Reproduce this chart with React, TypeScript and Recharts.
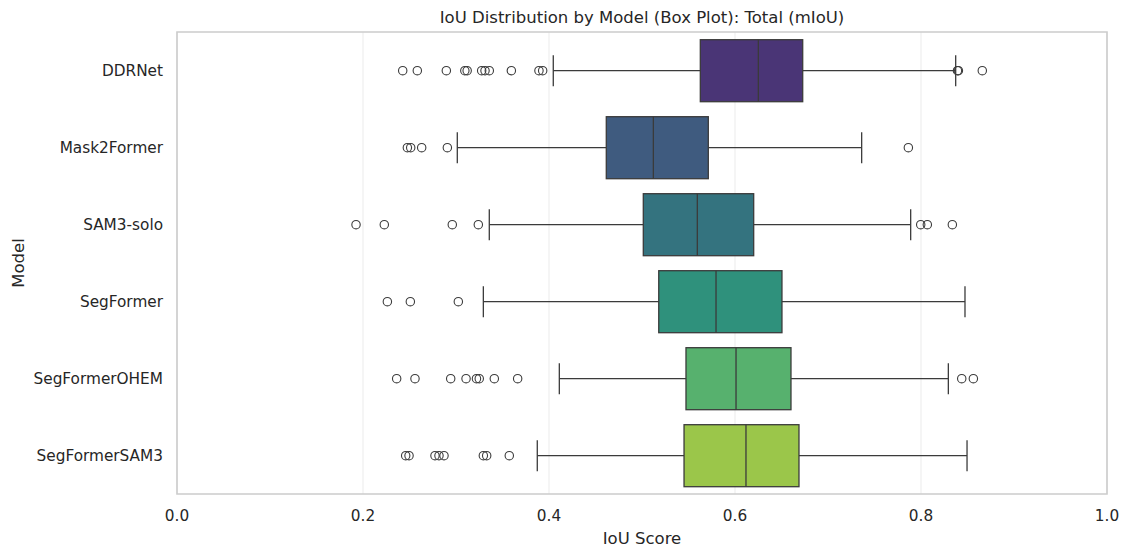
import { ComposedChart, Bar, XAxis, YAxis, CartesianGrid, ReferenceArea } from "recharts";

const models = ["DDRNet", "Mask2Former", "SAM3-solo", "SegFormer", "SegFormerOHEM", "SegFormerSAM3"];
const q1 = [0.5627, 0.4616, 0.5014, 0.518, 0.5473, 0.5452];
const medians = [0.6251, 0.5122, 0.5595, 0.5796, 0.6011, 0.6118];
const q3 = [0.6728, 0.5713, 0.6201, 0.6505, 0.6602, 0.6688];
const whiskerLow = [0.4046, 0.3014, 0.3358, 0.3294, 0.4111, 0.3874];
const whiskerHigh = [0.8373, 0.7362, 0.7889, 0.8473, 0.8294, 0.8495];
const outliers = [
  [0.2427, 0.2584, 0.2896, 0.3095, 0.312, 0.3276, 0.3312, 0.3358, 0.3595, 0.3892, 0.3932, 0.8392, 0.8402, 0.8659],
  [0.2477, 0.2513, 0.2631, 0.2907, 0.7864],
  [0.1925, 0.2229, 0.296, 0.324, 0.7997, 0.8068, 0.8337],
  [0.2262, 0.2509, 0.3025],
  [0.2362, 0.2559, 0.2943, 0.3108, 0.322, 0.325, 0.3412, 0.3663, 0.8438, 0.8563],
  [0.2459, 0.2495, 0.2774, 0.2817, 0.2871, 0.3294, 0.333, 0.3573],
];
const colors = ["#4a3576", "#3f5b7f", "#34737f", "#2f917c", "#57b16e", "#9bc64a"];
const xTicks = [0, 0.2, 0.4, 0.6, 0.8, 1.0];

const data = models.map((m, i) => ({
  model: m,
  box: [q1[i], q3[i]],
  q1: q1[i],
  q3: q3[i],
  median: medians[i],
  lo: whiskerLow[i],
  hi: whiskerHigh[i],
  fliers: outliers[i],
  color: colors[i],
}));

const LINE = "#3b3b3b";
const FONT = "'DejaVu Sans', sans-serif";

// box, whiskers, median and fliers for one row; the scale comes from the bar's own q1..q3 span
const BoxShape = (props: any) => {
  const { x, y, width, height, payload } = props;
  if (!payload) return null;
  const left = Math.min(x, x + width);
  const w = Math.abs(width);
  const ppu = w / (payload.q3 - payload.q1);
  const sx = (v: number) => left + (v - payload.q1) * ppu;
  const cy = y + height / 2;
  const cap = height / 4;
  return (
    <g>
      <line x1={sx(payload.lo)} x2={left} y1={cy} y2={cy} stroke={LINE} strokeWidth={1.3} />
      <line x1={left + w} x2={sx(payload.hi)} y1={cy} y2={cy} stroke={LINE} strokeWidth={1.3} />
      <line x1={sx(payload.lo)} x2={sx(payload.lo)} y1={cy - cap} y2={cy + cap} stroke={LINE} strokeWidth={1.3} />
      <line x1={sx(payload.hi)} x2={sx(payload.hi)} y1={cy - cap} y2={cy + cap} stroke={LINE} strokeWidth={1.3} />
      <rect x={left} y={y} width={w} height={height} fill={payload.color} stroke={LINE} strokeWidth={1.3} />
      <line x1={sx(payload.median)} x2={sx(payload.median)} y1={y} y2={y + height} stroke={LINE} strokeWidth={1.3} />
      {payload.fliers.map((v: number, k: number) => (
        <circle key={k} cx={sx(v)} cy={cy} r={4.2} fill="none" stroke={LINE} strokeWidth={1.1} />
      ))}
    </g>
  );
};

export default function App() {
  return (
    <div style={{ position: "absolute", left: 0, top: 0, width: 1128, height: 556, background: "#fff", fontFamily: FONT }}>
      <div
        style={{
          position: "absolute",
          left: 177,
          width: 930,
          top: 8,
          textAlign: "center",
          fontSize: 16.5,
          color: "#262626",
        }}
      >
        IoU Distribution by Model (Box Plot): Total (mIoU)
      </div>
      <ComposedChart
        width={1128}
        height={556}
        data={data}
        layout="vertical"
        margin={{ top: 32, right: 21, bottom: 0, left: 0 }}
        barCategoryGap="10%"
      >
        <CartesianGrid horizontal={false} stroke="#ebebeb" strokeWidth={1} />
        <XAxis
          type="number"
          domain={[0, 1]}
          ticks={xTicks}
          tickFormatter={(v: number) => v.toFixed(1)}
          tickLine={false}
          axisLine={false}
          tickMargin={10}
          height={62}
          tick={{ fill: "#262626", fontSize: 15.3, fontFamily: FONT }}
          label={{
            value: "IoU Score",
            position: "insideBottom",
            offset: 12,
            fill: "#262626",
            fontSize: 16.5,
            fontFamily: FONT,
          }}
        />
        <YAxis
          type="category"
          dataKey="model"
          width={177}
          tickLine={false}
          axisLine={false}
          tickMargin={8}
          tick={{ fill: "#262626", fontSize: 15.3, fontFamily: FONT }}
          label={{
            value: "Model",
            angle: -90,
            position: "insideLeft",
            offset: 18,
            fill: "#262626",
            fontSize: 16.5,
            fontFamily: FONT,
            style: { textAnchor: "middle" },
          }}
        />
        <ReferenceArea x1={0} x2={1} fill="none" stroke="#cccccc" strokeWidth={1.6} ifOverflow="visible" />
        <Bar dataKey="box" shape={BoxShape} isAnimationActive={false} />
      </ComposedChart>
    </div>
  );
}
